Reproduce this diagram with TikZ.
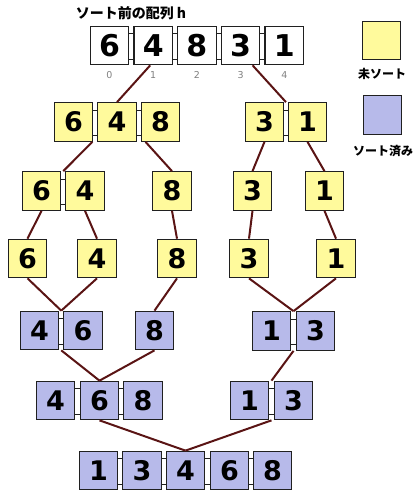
\documentclass[tikz,border=0pt]{standalone}
\usepackage{fontspec}
\setmainfont{DejaVu Sans}
\newfontfamily\jp{Noto Sans CJK JP}
\usetikzlibrary{calc}
\definecolor{yel}{HTML}{FFFA9C}
\definecolor{pur}{HTML}{B7BAEA}
\definecolor{edgec}{HTML}{5A1414}
\definecolor{bord}{HTML}{202020}
\definecolor{idxc}{HTML}{808080}
\tikzset{
 cell/.style={draw=bord, line width=1.2pt, minimum width=38.5pt, minimum height=38.5pt, inner sep=0pt, font=\fontsize{27}{27}\selectfont\bfseries},
 wcell/.style={cell, fill=white, font=\fontsize{30}{30}\selectfont\bfseries},
 ycell/.style={cell, fill=yel},
 pcell/.style={cell, fill=pur},
 link/.style={draw=bord, line width=0.9pt},
 tree/.style={draw=edgec, line width=2pt},
 idx/.style={font=\fontsize{9.5}{9.5}\selectfont, text=idxc},
 jlabel/.style={font=\jp\bfseries\fontsize{12}{12}\selectfont},
}
\newcommand{\lnk}[2]{%
  \draw[link] ($(#1.north east)+(0,8)$) -- ($(#2.north west)+(0,8)$);
  \draw[link] ($(#1.south east)+(0,-6)$) -- ($(#2.south west)+(0,-6)$);}
\begin{document}
\begin{tikzpicture}[x=1pt,y=-1pt]
\useasboundingbox (0,0) rectangle (416,499);
% title
\node[font=\jp\bfseries\fontsize{14}{14}\selectfont] (title) at (131,13) {ソート前の配列 h};
% top array
\foreach \i/\x/\v in {1/109.5/6,2/153.2/4,3/196.9/8,4/240.6/3,5/284.3/1}{
  \node[wcell] (t\i) at (\x,45.5) {\v};
}
\foreach \i/\x in {1/109.5,2/153.2,3/196.9,4/240.6,5/284.3}{
  \pgfmathtruncatemacro{\k}{\i-1}
  \node[idx] (ix\i) at (\x,75) {\k};
}
% legend
\node[ycell] (ly) at (381.5,40.5) {};
\node[jlabel] (lyt) at (382,74) {未ソート};
\node[pcell] (lp) at (382.5,115) {};
\node[jlabel] (lpt) at (383,151) {ソート済み};
% level 2
\node[ycell] (a1) at (73.5,122) {6};
\node[ycell] (a2) at (117,122) {4};
\node[ycell] (a3) at (160.5,122) {8};
\node[ycell] (b1) at (264.5,122) {3};
\node[ycell] (b2) at (307.5,122) {1};
% level 3
\node[ycell] (c1) at (41.5,191) {6};
\node[ycell] (c2) at (85,191) {4};
\node[ycell] (c3) at (172,191) {8};
\node[ycell] (c4) at (252.5,191) {3};
\node[ycell] (c5) at (324.5,191) {1};
% level 4
\node[ycell] (d1) at (27.5,258.5) {6};
\node[ycell] (d2) at (97,258.5) {4};
\node[ycell] (d3) at (177,258.5) {8};
\node[ycell] (d4) at (249,258.5) {3};
\node[ycell] (d5) at (336,258.5) {1};
% level 5
\node[pcell] (e1) at (39.5,330.5) {4};
\node[pcell] (e2) at (83,330.5) {6};
\node[pcell] (e3) at (154.5,330.5) {8};
\node[pcell] (e4) at (271.5,331) {1};
\node[pcell] (e5) at (315.5,331) {3};
% level 6
\node[pcell] (f1) at (55.5,400.5) {4};
\node[pcell] (f2) at (99.5,400.5) {6};
\node[pcell] (f3) at (143,400.5) {8};
\node[pcell] (f4) at (249.5,400.5) {1};
\node[pcell] (f5) at (293.5,400.5) {3};
% level 7
\foreach \i/\x/\v in {1/98.5/1,2/142/3,3/185.5/4,4/229.5/6,5/272.5/8}{
  \node[pcell] (g\i) at (\x,470.5) {\v};
}
% links
\lnk{t1}{t2}\lnk{t2}{t3}\lnk{t3}{t4}\lnk{t4}{t5}
\lnk{a1}{a2}\lnk{a2}{a3}\lnk{b1}{b2}
\lnk{c1}{c2}
\lnk{e1}{e2}\lnk{e4}{e5}
\lnk{f1}{f2}\lnk{f2}{f3}\lnk{f4}{f5}
\lnk{g1}{g2}\lnk{g2}{g3}\lnk{g3}{g4}\lnk{g4}{g5}
% tree lines
\draw[tree] ($(t2.south)+(-3,0)$) -- (a2.north);
\draw[tree] ($(t4.south)+(12,0)$) -- ($(b1.north east)!.5!(b2.north west)$);
\draw[tree] ($(a1.south east)+(-1,0)$) -- ($(c1.north east)!.5!(c2.north west)$);
\draw[tree] ($(a3.south)+(-15,0)$) -- (c3.north);
\draw[tree] (b1.south) -- (c4.north);
\draw[tree] (b2.south) -- (c5.north);
\draw[tree] (c1.south) -- (d1.north);
\draw[tree] (c2.south) -- (d2.north);
\draw[tree] (c3.south) -- (d3.north);
\draw[tree] (c4.south) -- (d4.north);
\draw[tree] (c5.south) -- (d5.north);
\draw[tree] (d1.south) -- ($(e1.north east)!.5!(e2.north west)$);
\draw[tree] (d2.south) -- ($(e1.north east)!.5!(e2.north west)$);
\draw[tree] (d3.south) -- (e3.north);
\draw[tree] (d4.south) -- ($(e4.north east)!.5!(e5.north west)$);
\draw[tree] (d5.south) -- ($(e4.north east)!.5!(e5.north west)$);
\draw[tree] ($(e1.south east)!.5!(e2.south west)$) -- (f2.north);
\draw[tree] (e3.south) -- (f2.north);
\draw[tree] ($(e4.south east)!.5!(e5.south west)$) -- ($(f4.north east)!.5!(f5.north west)$);
\draw[tree] (f2.south) -- (g3.north);
\draw[tree] ($(f4.south east)!.5!(f5.south west)$) -- (g3.north);
\end{tikzpicture}
\end{document}
